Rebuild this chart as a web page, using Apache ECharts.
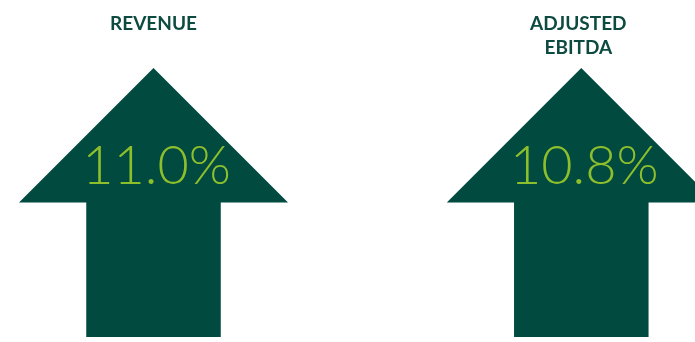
<!DOCTYPE html>
<html>
<head>
<meta charset="utf-8">
<script src="https://cdn.jsdelivr.net/npm/echarts@6/dist/echarts.min.js"></script>
<style>
  html, body { margin: 0; padding: 0; background: #ffffff; }
  #chart { width: 695px; height: 342px; }
</style>
</head>
<body>
<div id="chart"></div>
<script>
// Metrics shown as growth arrows
const categories = ['REVENUE', 'ADJUSTED\nEBITDA'];
const growthPct = [11.0, 10.8];

const ARROW_COLOR = '#014a40';
const VALUE_COLOR = '#8dbe2c';
const TITLE_COLOR = '#0d4a40';

const chart = echarts.init(document.getElementById('chart'), null, { renderer: 'canvas' });

function renderArrow(params, api) {
  const idx = api.value(0);
  const pct = api.value(1);
  const tip = api.coord([idx, 1]);
  const base = api.coord([idx, 0]);
  const cx = tip[0];
  const h = base[1] - tip[1];
  // Arrow is as wide as it is tall; the head takes the upper half.
  const headHalf = h / 2;
  const headBaseY = tip[1] + h / 2;
  const shaftHalf = h / 4;
  const points = [
    [cx, tip[1]],
    [cx + headHalf, headBaseY],
    [cx + shaftHalf, headBaseY],
    [cx + shaftHalf, base[1]],
    [cx - shaftHalf, base[1]],
    [cx - shaftHalf, headBaseY],
    [cx - headHalf, headBaseY]
  ];
  return {
    type: 'group',
    children: [
      {
        type: 'polygon',
        shape: { points: points },
        style: { fill: ARROW_COLOR }
      },
      {
        type: 'text',
        x: cx + 3,
        y: tip[1] + 126,
        style: {
          text: pct.toFixed(1) + '%',
          fill: VALUE_COLOR,
          font: '300 54px Lato',
          align: 'center',
          verticalAlign: 'bottom'
        }
      },
      {
        type: 'text',
        x: cx - (idx === 0 ? 0 : 3),
        y: 12,
        style: {
          text: categories[idx],
          fill: TITLE_COLOR,
          font: 'bold 19px Lato',
          lineHeight: 24,
          align: 'center',
          verticalAlign: 'top'
        }
      }
    ]
  };
}

chart.setOption({
  animation: false,
  grid: { left: 153.5, right: 113.7, top: 68, bottom: 5 },
  xAxis: {
    type: 'category',
    data: categories,
    boundaryGap: false,
    show: false
  },
  yAxis: {
    type: 'value',
    min: 0,
    max: 1,
    show: false
  },
  series: [{
    type: 'custom',
    clip: false,
    renderItem: renderArrow,
    data: growthPct.map((v, i) => [i, v])
  }]
});
</script>
</body>
</html>
